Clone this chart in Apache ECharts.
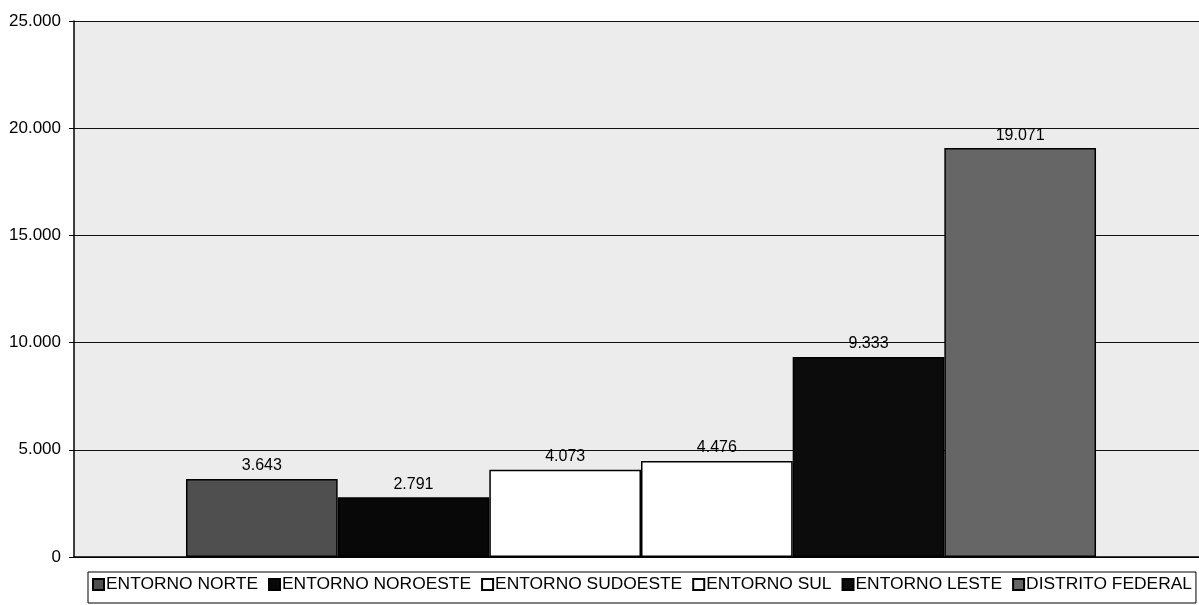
<!DOCTYPE html>
<html>
<head>
<meta charset="utf-8">
<script src="https://cdn.jsdelivr.net/npm/echarts@6/dist/echarts.min.js"></script>
<style>html,body{margin:0;padding:0;background:#fff;overflow:hidden}#c{width:1208px;height:605px}</style>
</head>
<body>
<div id="c"></div>
<script>
const categories = ['Total'];
const seriesNames = ['ENTORNO NORTE','ENTORNO NOROESTE','ENTORNO SUDOESTE','ENTORNO SUL','ENTORNO LESTE','DISTRITO FEDERAL'];
const seriesValues = [3643, 2791, 4073, 4476, 9333, 19071];
const seriesColors = ['#4f4f4f','#080808','#ffffff','#ffffff','#0c0c0c','#666666'];
const yTicks = [0, 5000, 10000, 15000, 20000, 25000];

function fmt(v){ return String(v).replace(/\B(?=(\d{3})+(?!\d))/g,'.'); }

const chart = echarts.init(document.getElementById('c'));
chart.setOption({
  animation:false,
  textStyle:{fontFamily:'Liberation Sans, Arial, sans-serif'},
  grid:{left:74,right:0,top:21,height:536,show:true,backgroundColor:'#ececec',borderWidth:0},
  xAxis:{type:'category',data:categories,axisLine:{show:true,lineStyle:{color:'#000',width:1.5}},axisTick:{show:false},axisLabel:{show:false}},
  yAxis:{type:'value',min:yTicks[0],max:yTicks[yTicks.length-1],interval:5000,
    axisLine:{show:true,lineStyle:{color:'#000',width:1.5}},
    axisTick:{show:true,length:5,lineStyle:{color:'#000'}},
    splitLine:{lineStyle:{color:'#111',width:1.2}},
    axisLabel:{color:'#000',fontSize:17,margin:13,formatter:v=>v===0?'0':fmt(v)}},
  legend:{top:572,left:88,itemWidth:11,itemHeight:11,itemGap:10,padding:[4,4,10,4],
    borderColor:'#000',borderWidth:1,icon:'rect',
    textStyle:{color:'#000',fontSize:17.4,padding:[0,0,0,-3]},
    data:seriesNames},
  series: seriesNames.map((n,i)=>({
    name:n,type:'bar',barGap:0,barCategoryGap:'19.75%',
    data:[seriesValues[i]],
    itemStyle:{color:seriesColors[i],borderColor:'#000',borderWidth:1.5},
    label:{show:true,position:'top',distance:5,color:'#000',fontSize:16,formatter:p=>fmt(p.value)}
  }))
});
</script>
</body>
</html>
